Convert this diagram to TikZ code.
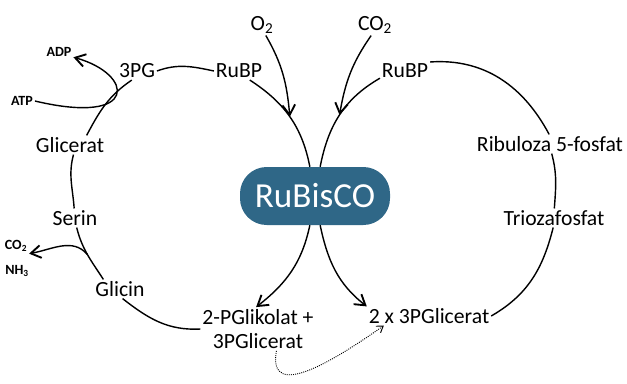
\documentclass[tikz,border=0pt]{standalone}
\usepackage{fontspec}
\setmainfont{Carlito}
\usetikzlibrary{arrows.meta}
\definecolor{RubiscoBlue}{RGB}{47,103,135}

\begin{document}
\begin{tikzpicture}[
	x=0.3mm, y=-0.3mm,
	% Define the looks of the labels and the cycle lines
	Label/.style={inner sep=1.5pt, font=\fontsize{18.5}{21}\selectfont},
	SideLabel/.style={inner sep=1.5pt, font=\fontsize{12}{13}\selectfont\bfseries},
	Enzyme/.style={fill=RubiscoBlue, text=white, rounded corners=8mm, minimum width=45mm, minimum height=17.4mm, inner sep=0pt, font=\fontsize{30}{32}\selectfont},
	CycleLine/.style={line width=1.2pt},
	>={Straight Barb[length=3mm,width=3.8mm,line width=1.6pt]}
	]
	\useasboundingbox (0,0) rectangle (627,383);
	\node[Enzyme] (Rubisco) at (315,196) {RuBisCO};
	\node[Label] (O2Gas) at (262,25) {O\textsubscript{2}};
	\node[Label] (CO2Gas) at (375,25) {CO\textsubscript{2}};
	\node[Label] (ThreePG) at (137,71) {3PG};
	\node[Label] (RuBPLeft) at (239,71) {RuBP};
	\node[Label] (RuBPRight) at (405,71) {RuBP};
	\node[Label] (Ribuloza) at (550,144) {Ribuloza 5-fosfat};
	\node[Label] (Trioza) at (554,218) {Triozafosfat};
	\node[Label] (TwoThreePG) at (429,316) {2 x 3PGlicerat};
	\node[Label, align=center] (PGlikolat) at (258,329) {2-PGlikolat +\\3PGlicerat};
	\node[Label] (Glicin) at (120,289) {Glicin};
	\node[Label] (Serin) at (75,218) {Serin};
	\node[Label] (Glicerat) at (70,145) {Glicerat};
	\node[SideLabel] (ADP) at (59,52) {ADP};
	\node[SideLabel] (ATP) at (22,101) {ATP};
	\node[SideLabel] (CO2Out) at (16,246) {CO\textsubscript{2}};
	\node[SideLabel] (NH3Out) at (17,271) {NH\textsubscript{3}};
	% left cycle
	\draw[CycleLine] (ThreePG.east) to[out=20,in=168] (RuBPLeft.west);
	\draw[CycleLine] (RuBPLeft.-40) to[out=-33,in=101] coordinate[pos=0.5] (OxyJoin) (Rubisco.100);
	\draw[CycleLine, ->] (O2Gas.-70) to[out=-60,in=95] (OxyJoin);
	\draw[CycleLine, ->] (Rubisco.-100) to[out=-102,in=38] (PGlikolat.95);
	\draw[CycleLine] (PGlikolat.west) to[out=183,in=-38] (Glicin.-75);
	\draw[CycleLine] (Glicin.150) to[out=123,in=-76] coordinate[pos=0.5] (GlicinFork) (Serin.-80);
	\draw[CycleLine, ->] (GlicinFork) to[out=130,in=10] (CO2Out.south east);
	\draw[CycleLine] (Serin.95) to[out=94,in=-105] (Glicerat.-70);
	\draw[CycleLine] (Glicerat.30) to[out=62,in=-146] (ThreePG.-120);
	\draw[CycleLine, ->] (ATP.east) .. controls (140,126) and (134,74) .. (ADP.-20);
	% right cycle
	\draw[CycleLine] (RuBPRight.-164) to[out=210,in=79] coordinate[pos=0.5] (CarbJoin) (Rubisco.80);
	\draw[CycleLine, ->] (CO2Gas.-110) to[out=-125,in=80] (CarbJoin);
	\draw[CycleLine, ->] (Rubisco.-80) to[out=-78,in=142] (TwoThreePG.north west);
	\draw[CycleLine] (TwoThreePG.east) to[out=30,in=-104] (Trioza.-95);
	\draw[CycleLine] (Trioza.88) to[out=86,in=-75] (Ribuloza.-80);
	\draw[CycleLine] (Ribuloza.95) to[out=118,in=4] (RuBPRight.north east);
	\draw[line width=0.8pt, densely dotted, ->, >={Straight Barb[length=1.8mm,width=2.4mm]}] (PGlikolat.-50) to[out=-100,in=-145,looseness=1.25] (TwoThreePG.-168);
\end{tikzpicture}
\end{document}
